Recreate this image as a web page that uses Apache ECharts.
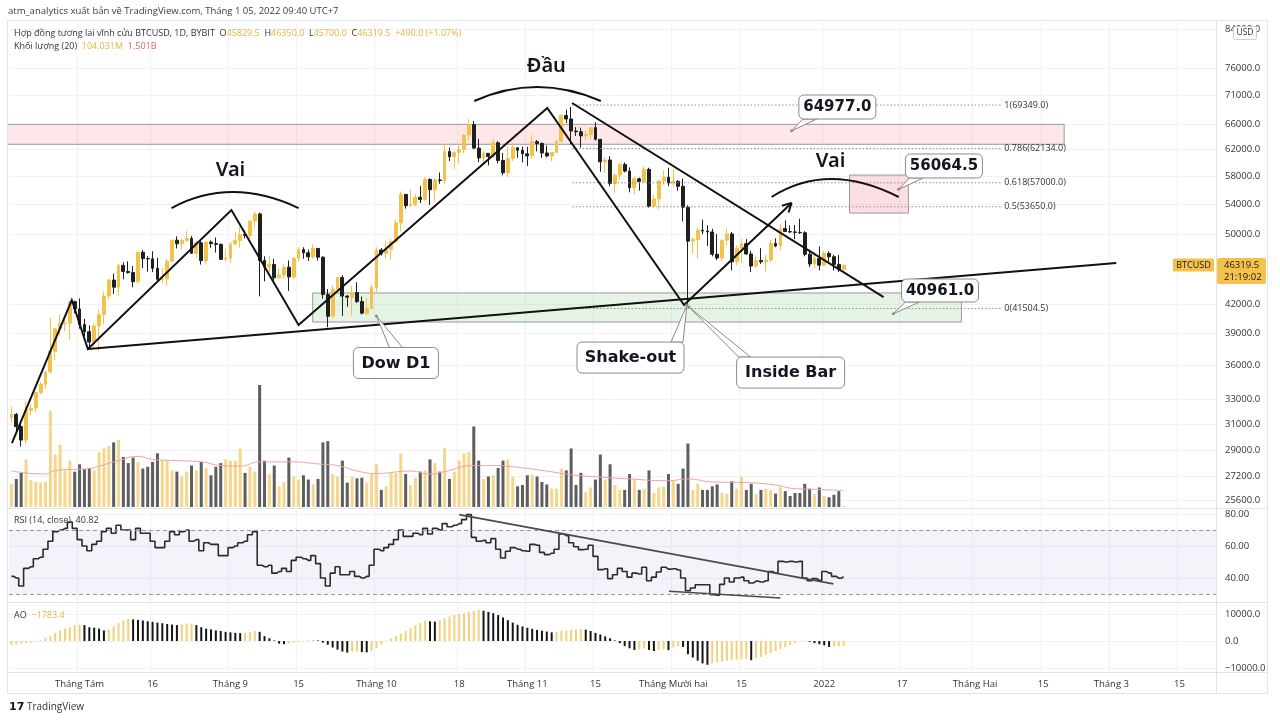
<!DOCTYPE html>
<html>
<head>
<meta charset="utf-8">
<script src="https://cdn.jsdelivr.net/npm/echarts@6/dist/echarts.min.js"></script>
<style>
html, body { margin: 0; background: #fff; }
#main { width: 1280px; height: 722px; }
</style>
</head>
<body>
<div id="main"></div>
<script>
// BTCUSD 1D (BYBIT) 18/07/2021 - 05/01/2022, doc tu anh
// [open, high, low, close]
const ohlc = [
  [31530,32420,31120,31780],[31780,31900,30400,30820],[30820,31050,29300,29790],[29790,32850,29500,32110],
  [32110,32580,31720,32290],[32290,33630,31950,33580],[33580,34490,33410,34290],[34290,35400,33880,35380],
  [35380,40550,35240,37270],[37270,39520,36420,39450],[39450,40900,38780,39990],[39990,40640,39220,40010],
  [40010,42300,38350,42220],[42220,42350,41000,41460],
  // thang 8
  [41460,42580,39450,39860],[39860,40440,38700,39150],[39150,39780,37520,38150],[38150,39950,37650,39720],
  [39720,41400,37300,40870],[40870,43350,39870,42840],[42840,44750,42440,44600],[44600,45330,43060,43810],
  [43810,46460,42810,46280],[46280,46650,44700,45580],[45580,46750,45330,45450],[45450,46200,43800,44410],
  [44410,47900,44230,47830],[47830,48120,45980,47080],[47080,47400,45550,47050],[47050,47950,45500,45940],
  [45940,47180,44420,44690],[44690,46000,44230,44730],[44730,47030,43960,46760],[46760,49350,46650,49320],
  [49320,49800,48300,48870],[48870,49500,48120,49290],[49290,50500,49050,49530],[49530,49850,47650,47710],
  [47710,49250,47150,48990],[48990,49350,46380,46850],[46850,49150,46400,49080],[49080,49300,48380,48900],
  [48900,49650,47800,48800],[48800,48900,46900,46990],[46990,48250,46750,47150],
  // thang 9
  [47150,49100,46550,48850],[48850,50350,48650,49280],[49280,51050,48380,50030],[50030,50550,49550,49920],
  [49920,51900,49500,51760],[51760,52950,50950,52690],[52690,52900,42800,46860],[46860,47350,44450,46080],
  [46080,47400,45520,46390],[46390,47050,44200,44850],[44850,45950,44750,45160],[45160,46450,44750,46060],
  [46060,46850,43400,44960],[44960,47250,44680,47110],[47110,48450,46750,48150],[48150,48450,47050,47770],
  [47770,48150,46800,47290],[47290,48800,47050,48310],[48310,48350,46850,47250],[47250,47350,42550,43010],
  [43010,43600,39600,40710],[40710,44000,40600,43570],[43570,44950,43100,44890],[44890,45150,40750,42830],
  [42830,42950,41700,42720],[42720,43950,40800,43210],[43210,44350,42100,42240],[42240,42800,40900,41030],
  [41030,42600,40800,41520],[41520,44100,41400,43790],
  // thang 10
  [43790,48450,43300,48120],[48120,48350,47450,47710],[47710,49250,47100,48200],[48200,49500,46950,49110],
  [49110,51900,49050,51510],[51510,55750,50400,55360],[55360,55400,53400,53800],[53800,56100,53650,53930],
  [53930,55450,53700,54960],[54960,56550,54150,54660],[54660,57850,54450,57470],[57470,57650,53900,56000],
  [56000,57650,54300,57400],[57400,58500,56850,57320],[57320,62900,56900,61670],[61670,62300,60200,60880],
  [60880,61650,58950,61530],[61530,62650,59850,62000],[62000,64450,61400,64280],[64280,66950,63500,66000],
  [66000,66600,62050,62210],[62210,63700,60050,60690],[60690,61750,59700,61390],[61390,61450,59550,60890],
  [60890,63700,60700,63050],[63050,63300,59850,60300],[60300,61450,58100,58460],[58460,62450,57850,60600],
  [60600,62950,60200,62250],[62250,62350,60700,61860],[61860,62450,60000,61320],
  // thang 11
  [61320,62400,59450,61000],[61000,64300,60700,63230],[63230,63500,61700,62950],[62950,63100,60700,61450],
  [61450,62600,60750,61000],[61000,61600,60150,61530],[61530,63300,61400,63300],[63300,67800,63100,67560],
  [67560,68550,66300,66950],[66950,69000,62800,64950],[64950,65600,64150,64830],[64830,65500,62300,64150],
  [64150,65000,63400,64400],[64400,65550,63600,65500],[65500,66400,63400,63600],[63600,63600,58600,60100],
  [60100,60800,58400,60370],[60370,60950,56500,56900],[56900,58400,55600,58100],[58100,59900,57450,59700],
  [59700,60000,58500,58700],[58700,59250,55650,56300],[56300,57850,55350,57570],[57570,57750,55900,57170],
  [57170,59400,57000,58960],[58960,59200,53550,53730],[53730,55300,53650,54720],[54720,57400,53350,57270],
  [57270,58850,56700,57800],[57800,59200,56500,56960],
  // thang 12
  [56960,59050,56450,57200],[57200,57400,55850,56500],[56500,57600,51700,53600],[53600,53850,42000,49200],
  [49200,49700,47700,49400],[49400,50900,47100,50580],[50580,51950,50050,50470],[50470,51200,48600,50350],
  [50350,50750,47350,47600],[47600,50100,46900,47150],[47150,49450,46800,49300],[49300,50800,48700,50100],
  [50100,50350,45700,46700],[46700,48700,46300,48340],[48340,49500,46600,48880],[48880,49450,47550,47630],
  [47630,48000,45500,46200],[46200,47350,45950,46850],[46850,48350,46450,46700],[46700,47550,45550,46900],
  [46900,49350,46650,48900],[48900,49550,48450,48600],[48600,51350,48100,50800],[50800,51850,50450,50400],
  [50400,51200,50200,50350],[50350,51250,49450,50300],[50300,52050,50100,50250],[50250,50450,47350,47600],
  [47600,48150,46100,46450],[46450,47900,46000,47100],[47100,48550,45700,46300],
  // thang 1
  [46300,47950,46200,47700],[47700,47950,46700,47300],[47300,47550,45700,46400],[46400,47500,45500,45830],
  [45829.5,46350,45700,46319.5]
];

// khoi luong (ty USD)
const volume = [
  1.9, 2.3, 2.8, 3.9, 2.2, 2.05, 2.0, 2.05, 7.9, 4.3,
  5.1, 3.0, 3.8, 2.9, 3.5, 3.1, 3.2, 3.0, 4.5, 4.8,
  5.0, 5.3, 5.5, 4.1, 3.6, 4.05, 3.7, 3.15, 3.3, 3.7,
  4.4, 3.8, 3.8, 3.0, 2.9, 2.5, 2.9, 3.4, 3.0, 3.7,
  3.2, 2.6, 3.3, 3.6, 3.9, 3.8, 3.8, 4.8, 2.8, 3.3,
  2.9, 10.0, 3.8, 2.7, 3.4, 1.7, 2.05, 4.05, 2.5, 2.25,
  2.6, 2.25, 1.85, 2.3, 5.3, 5.4, 2.7, 2.5, 3.8, 2.0,
  2.5, 2.35, 2.4, 2.0, 2.7, 3.5, 1.4, 1.7, 2.8, 2.8,
  4.4, 2.7, 1.8, 2.4, 2.9, 3.0, 3.9, 3.6, 2.9, 4.85,
  2.3, 2.9, 3.8, 4.4, 4.5, 6.6, 3.8, 2.3, 2.5, 2.6,
  3.2, 3.8, 3.9, 2.5, 1.7, 1.8, 2.6, 2.65, 2.5, 2.05,
  1.85, 1.5, 1.5, 3.15, 3.0, 4.8, 1.8, 2.8, 1.2, 1.6,
  2.25, 4.3, 2.25, 3.5, 1.8, 1.4, 1.4, 2.7, 2.2, 1.4,
  1.5, 3.0, 1.15, 1.6, 1.65, 2.7, 2.2, 1.9, 3.15, 5.2,
  1.4, 1.9, 1.4, 1.4, 1.7, 1.85, 1.15, 1.1, 2.1, 1.5,
  2.5, 1.4, 1.9, 1.05, 1.4, 1.5, 1.4, 1.1, 1.65, 1.3,
  0.9, 1.15, 1.15, 1.9, 1.5, 1.05, 1.6, 0.9, 0.8, 1.0,
  1.3, 0.1
];

// duong MA(20) cua khoi luong, cac diem doc duoc [chi so ngay, gia tri]
const volumeMa = [
  [0, 2.95], [7, 2.7], [9, 3.0], [16, 3.15], [18, 3.35], [22, 3.8], [26, 4.15], [29, 3.9],
  [34, 3.8], [39, 3.7], [43, 3.4], [47, 3.35], [51, 3.7], [57, 3.7], [64, 3.5], [67, 3.4],
  [71, 2.95], [75, 2.75], [82, 2.95], [86, 2.7], [89, 2.9], [95, 3.4], [99, 3.4], [103, 3.3],
  [109, 3.0], [115, 2.65], [121, 2.45], [127, 2.3], [135, 2.15], [139, 2.3], [144, 2.05],
  [151, 2.0], [157, 1.8], [161, 1.5], [165, 1.45], [171, 1.35]
];

const rsi = [
  41, 40, 35, 46, 47, 52, 53, 58, 63, 69,
  70, 71, 75, 71, 64, 60, 57, 61, 63, 69,
  71, 68, 73, 70, 70, 64, 71, 68, 68, 63,
  59, 59, 63, 69, 67, 69, 70, 63, 64, 57,
  62, 61, 61, 54, 54, 59, 60, 62, 63, 67,
  69, 48, 47, 48, 43, 44, 46, 44, 51, 53,
  52, 51, 54, 49, 40, 35, 43, 47, 42, 42,
  44, 41, 40, 41, 48, 58, 57, 59, 61, 64,
  70, 66, 66, 68, 67, 71, 67.5, 71, 70, 74,
  72, 73, 74, 76.5, 79.6, 65.4, 63, 63.5, 62, 64.6,
  58, 52.5, 56.7, 59, 58, 57, 56.7, 61, 60.5, 56,
  54.6, 55.5, 58, 67.5, 66.5, 62, 59.5, 57.7, 58, 60.5,
  53.5, 45.2, 45.8, 39.6, 42, 46, 44, 40.5, 43, 42.5,
  46.7, 38.3, 40.5, 43.7, 46.7, 45.5, 45.8, 45, 40, 32,
  33.7, 35.8, 35.8, 35.8, 29.6, 29.2, 36, 40, 37.5, 40,
  40.5, 38.3, 36.9, 38, 37.5, 38.3, 44, 43, 50.4, 50,
  50.4, 50, 50.4, 40, 38.3, 39.6, 38.5, 44, 43, 41,
  39.8, 40.82
];

const ao = [
  -1400, -1200, -1000, -800, -500, -200, 300, 1200, 1800, 3000,
  3900, 4600, 5100, 5900, 6100, 5900, 5100, 4900, 4600, 3900,
  4300, 5500, 6700, 7600, 8200, 8000, 7800, 7600, 7300, 7100,
  6800, 6600, 6300, 6100, 5900, 6100, 6400, 6500, 5900, 5100,
  4600, 4300, 3900, 3700, 3400, 3200, 3000, 2900, 3000, 3300,
  3700, 3400, 1800, 1000, 200, -1000, -1200, -900, -600, -300,
  100, 300, 400, 200, -600, -1400, -2400, -3200, -3900, -4300,
  -4000, -3800, -4100, -4200, -3600, -2600, -1200, 200, 1000, 1800,
  2700, 3700, 4900, 5900, 6700, 7500, 7300, 7200, 7800, 8500,
  9100, 9600, 10000, 10400, 10800, 11200, 11500, 11200, 10800, 10300,
  9600, 8700, 7700, 6800, 6000, 5400, 4900, 4500, 4100, 3800,
  3500, 3200, 3400, 3700, 3900, 4100, 4300, 4500, 4200, 3700,
  3000, 2400, 1700, 1000, 200, -800, -1900, -2700, -3300, -3000,
  -2800, -3300, -3700, -3300, -3000, -3400, -2400, -1900, -2200, -4900,
  -6100, -7300, -8300, -8800, -8300, -7900, -7600, -7300, -7100, -7000,
  -6800, -6700, -7100, -6300, -5900, -5100, -4400, -3700, -2900, -2200,
  -1500, -700, -200, 200, -300, -800, -1200, -1600, -2200, -2000,
  -1900, -1783.4
];

const priceTicks = [25600, 27200, 29000, 31000, 33000, 36000, 39000, 42000, 50000, 54000, 58000, 62000, 66000, 71000, 76000, 84000];
const rsiTicks = [40, 60, 80];
const aoTicks = [-10000, 0, 10000];
const xTicks = [
  ['2021-08-01', 'Tháng Tám'], ['2021-08-16', '16'], ['2021-09-01', 'Tháng 9'], ['2021-09-15', '15'],
  ['2021-10-01', 'Tháng 10'], ['2021-10-18', '18'], ['2021-11-01', 'Tháng 11'], ['2021-11-15', '15'],
  ['2021-12-01', 'Tháng Mười hai'], ['2021-12-15', '15'], ['2022-01-01', '2022'], ['2022-01-17', '17'],
  ['2022-02-01', 'Tháng Hai'], ['2022-02-15', '15'], ['2022-03-01', 'Tháng 3'], ['2022-03-15', '15']
];

// ve tay tren bieu do: [chi so ngay, gia]
const zigzag = [[0.1, 29570], [12.4, 42410], [15.7, 37480], [45.2, 53210], [59.0, 39820], [110.1, 68830], [138.2, 41880], [160.3, 54160]];
const neckline = [[15.7, 37480], [227.0, 46550]];
const headTrend = [[115.2, 69700], [179.2, 42730]];
const arcs = [
  [[32.9, 53480], [45.5, 55680], [59.0, 53480]],
  [[95.1, 70050], [108.0, 72570], [121.1, 70050]],
  [[156.2, 54990], [168.5, 57540], [182.3, 54990]]
];
const patternLabels = [['Vai', 45.0, 58860], ['Đầu', 109.9, 76520], ['Vai', 168.3, 60210]];
const zones = [
  [[-0.9, 66050], [216.3, 62810]],
  [[61.9, 43170], [195.2, 40120]],
  [[172.2, 58120], [184.3, 52810]]
];
const fibLevels = [[1, 69349.0], [0.786, 62134.0], [0.618, 57000.0], [0.5, 53650.0], [0, 41504.5]];
const fibSpan = [115.2, 203.6];
const callouts = [
  ['64977.0', [160.3, 64977], [169.7, 69000]],
  ['56064.5', [182.3, 56064.5], [191.6, 59470]],
  ['40961.0', [181.2, 40961], [190.8, 43440]],
  ['Dow D1', [75.0, 40730], [79.0, 36180]],
  ['Shake-out', [138.8, 41880], [127.2, 36680]],
  ['Inside Bar', [139.2, 41670], [160.1, 35320]]
];
const rsiTrend = [
  [[92.0, 79.6], [168.9, 36.3]],
  [[135.1, 31.7], [158.0, 27.5]]
];

// ngay tren truc
const dates = [];
const d0 = Date.UTC(2021, 6, 18);
for (let i = 0; i < 248; i++) {
  dates.push(new Date(d0 + i * 86400000).toISOString().slice(0, 10));
}
const tickMap = Object.fromEntries(xTicks);

const UP = '#f4c14a', DOWN = '#1f1f1f';
const FONT = '"Open Sans", "Noto Sans", sans-serif';

const chart = echarts.init(document.getElementById('main'));

const grids = [
  { left: 9, right: 64, top: 22, height: 486 },
  { left: 9, right: 64, top: 385, height: 122 },
  { left: 9, right: 64, top: 510, height: 91 },
  { left: 9, right: 64, top: 603, height: 69 }
];

const xAxes = grids.map((g, i) => ({
  type: 'category',
  gridIndex: i,
  data: dates,
  boundaryGap: true,
  axisLine: { show: false },
  axisTick: { show: false },
  axisLabel: {
    show: i === 3,
    interval: (idx, val) => tickMap[val] !== undefined,
    formatter: v => tickMap[v] || '',
    color: '#333',
    fontSize: 9.5,
    fontFamily: FONT,
    margin: 7
  },
  splitLine: {
    show: i !== 1,
    interval: (idx, val) => tickMap[val] !== undefined,
    lineStyle: { color: '#f1f2f5', width: 1 }
  }
}));

const axisLabelBase = { color: '#333', fontSize: 9.5, fontFamily: FONT, margin: 9 };

const option = {
  animation: false,
  backgroundColor: '#fff',
  grid: grids,
  xAxis: xAxes,
  yAxis: [
    {
      type: 'log', logBase: 10, gridIndex: 0, position: 'right',
      min: 25100, max: 85500,
      axisLine: { show: false },
      axisTick: { show: false, customValues: priceTicks },
      axisLabel: Object.assign({ customValues: priceTicks, formatter: v => Number(v).toFixed(1) }, axisLabelBase),
      splitLine: { show: true, lineStyle: { color: '#f1f2f5' } }
    },
    {
      type: 'value', gridIndex: 1, min: 0, max: 10, show: false
    },
    {
      type: 'value', gridIndex: 2, position: 'right', min: 25.6, max: 82.5,
      axisLine: { show: false },
      axisTick: { show: false, customValues: rsiTicks },
      axisLabel: Object.assign({ customValues: rsiTicks, formatter: v => Number(v).toFixed(2) }, axisLabelBase),
      splitLine: { show: true, lineStyle: { color: '#f1f2f5' } }
    },
    {
      type: 'value', gridIndex: 3, position: 'right', min: -11481, max: 14074,
      axisLine: { show: false },
      axisTick: { show: false, customValues: aoTicks },
      axisLabel: Object.assign({
        customValues: aoTicks,
        formatter: v => (v < 0 ? '\u2212' + Math.abs(v).toFixed(1) : Number(v).toFixed(1))
      }, axisLabelBase),
      splitLine: { show: true, lineStyle: { color: '#f1f2f5' } }
    }
  ],
  series: [
    {
      name: 'Khối lượng',
      type: 'bar',
      xAxisIndex: 1, yAxisIndex: 1,
      barWidth: '62%',
      data: volume.map((v, i) => ({
        value: v,
        itemStyle: { color: ohlc[i][3] >= ohlc[i][0] ? '#f6d68a' : '#5e5e5e' }
      }))
    },
    {
      name: 'MA khối lượng',
      type: 'line',
      xAxisIndex: 1, yAxisIndex: 1,
      data: volumeMa,
      smooth: true,
      showSymbol: false,
      lineStyle: { color: '#eea3a3', width: 1 }
    },
    {
      name: 'BTCUSD',
      type: 'candlestick',
      xAxisIndex: 0, yAxisIndex: 0,
      barWidth: '68%',
      data: ohlc.map(r => [r[0], r[3], r[2], r[1]]),
      itemStyle: { color: UP, color0: DOWN, borderColor: UP, borderColor0: DOWN, borderWidth: 1 }
    },
    {
      name: 'RSI',
      type: 'line',
      xAxisIndex: 2, yAxisIndex: 2,
      data: rsi,
      step: 'middle',
      showSymbol: false,
      lineStyle: { color: '#2b2b2b', width: 1.6 },
      markArea: {
        silent: true,
        itemStyle: { color: 'rgba(126,87,194,0.08)' },
        data: [[{ yAxis: 30 }, { yAxis: 70 }]]
      },
      markLine: {
        silent: true,
        symbol: 'none',
        label: { show: false },
        lineStyle: { color: '#9598a1', type: [4, 3], width: 1 },
        data: [{ yAxis: 70 }, { yAxis: 30 }]
      }
    },
    {
      name: 'AO',
      type: 'bar',
      xAxisIndex: 3, yAxisIndex: 3,
      barWidth: 2,
      data: ao.map((v, i) => ({
        value: v,
        itemStyle: { color: i === 0 || v >= ao[i - 1] ? '#f2d17c' : '#151515' }
      }))
    }
  ]
};

chart.setOption(option);

// cac hinh ve them theo toa do du lieu
const x0 = chart.convertToPixel({ gridIndex: 0 }, [0, 50000])[0];
const bw = chart.convertToPixel({ gridIndex: 0 }, [1, 50000])[0] - x0;
const P = (c, p) => [x0 + c * bw, chart.convertToPixel({ gridIndex: 0 }, [0, p])[1]];
const R = (c, v) => [x0 + c * bw, chart.convertToPixel({ gridIndex: 2 }, [0, v])[1]];

const g = [];
const frame = '#e0e3eb';

// khung
g.push({ type: 'rect', z: 50, silent: true, shape: { x: 7.5, y: 20.5, width: 1260, height: 673 }, style: { fill: null, stroke: frame, lineWidth: 1 } });
[508.5, 602.5, 672.5].forEach(y => {
  g.push({ type: 'line', z: 50, silent: true, shape: { x1: 7.5, y1: y, x2: 1267.5, y2: y }, style: { stroke: frame, lineWidth: 1 } });
});
g.push({ type: 'line', z: 50, silent: true, shape: { x1: 1216.5, y1: 20.5, x2: 1216.5, y2: 693.5 }, style: { stroke: frame, lineWidth: 1 } });

// vung
const zoneFill = ['rgba(242,54,69,0.12)', 'rgba(76,175,80,0.14)', 'rgba(242,54,69,0.16)'];
zones.forEach((z, i) => {
  const a = P(z[0][0], z[0][1]), b = P(z[1][0], z[1][1]);
  g.push({
    type: 'rect', z: 1, silent: true,
    shape: { x: Math.max(a[0], 7.5), y: a[1], width: b[0] - Math.max(a[0], 7.5), height: b[1] - a[1] },
    style: { fill: zoneFill[i], stroke: '#9a9a9a', lineWidth: 1 }
  });
});

// fibonacci
fibLevels.forEach(([lvl, price]) => {
  const a = P(fibSpan[0], price), b = P(fibSpan[1], price);
  g.push({ type: 'line', z: 3, silent: true, shape: { x1: a[0], y1: a[1], x2: b[0], y2: b[1] }, style: { stroke: '#8d8d8d', lineWidth: 1, lineDash: [1.5, 2] } });
  g.push({
    type: 'text', z: 3, silent: true,
    style: { text: lvl + '(' + price.toFixed(1) + ')', x: b[0] + 2, y: b[1], verticalAlign: 'middle', font: '9px ' + FONT, fill: '#333' }
  });
});

// duong zigzag + mui ten
const zz = zigzag.map(p => P(p[0], p[1]));
g.push({ type: 'polyline', z: 30, silent: true, shape: { points: zz }, style: { stroke: '#111', lineWidth: 2, fill: null } });
{
  const a = zz[zz.length - 2], b = zz[zz.length - 1];
  const ang = Math.atan2(b[1] - a[1], b[0] - a[0]);
  [-0.5, 0.5].forEach(s => {
    const t = ang + Math.PI + s;
    g.push({ type: 'line', z: 30, silent: true, shape: { x1: b[0], y1: b[1], x2: b[0] + 10 * Math.cos(t), y2: b[1] + 10 * Math.sin(t) }, style: { stroke: '#111', lineWidth: 2 } });
  });
}
[neckline, headTrend].forEach(l => {
  const a = P(l[0][0], l[0][1]), b = P(l[1][0], l[1][1]);
  g.push({ type: 'line', z: 30, silent: true, shape: { x1: a[0], y1: a[1], x2: b[0], y2: b[1] }, style: { stroke: '#111', lineWidth: 2 } });
});

// vong cung
arcs.forEach(arc => {
  const s = P(arc[0][0], arc[0][1]), m = P(arc[1][0], arc[1][1]), e = P(arc[2][0], arc[2][1]);
  const cx = 2 * m[0] - (s[0] + e[0]) / 2, cy = 2 * m[1] - (s[1] + e[1]) / 2;
  g.push({ type: 'bezierCurve', z: 30, silent: true, shape: { x1: s[0], y1: s[1], x2: e[0], y2: e[1], cpx1: cx, cpy1: cy }, style: { stroke: '#111', lineWidth: 2, fill: null } });
});

patternLabels.forEach(([t, c, p]) => {
  const q = P(c, p);
  g.push({ type: 'text', z: 30, silent: true, style: { text: t, x: q[0], y: q[1], align: 'center', verticalAlign: 'middle', font: '600 20px "Noto Sans", sans-serif', fill: '#131722' } });
});

// chu thich
const calloutSize = [[77, 24], [77, 24], [77, 23], [85, 31], [107, 31], [108, 31]];
const calloutBase = [
  [[4, 1], [18, 1]], [[4, 1], [18, 1]], [[4, 1], [18, 1]],
  [[36, 0], [49, 0]], [[94, 0], [106, 0]], [[2, 0], [14, 0]]
];
callouts.forEach(([t, anc, box], i) => {
  const a = P(anc[0], anc[1]), c = P(box[0], box[1]);
  const [w, h] = calloutSize[i];
  const bx = c[0] - w / 2, by = c[1] - h / 2;
  const base = calloutBase[i].map(([dx, fy]) => [bx + dx, by + fy * h]);
  g.push({ type: 'polygon', z: 40, silent: true, shape: { points: [a, base[0], base[1]] }, style: { fill: '#fff', stroke: '#8a8a8a', lineWidth: 1 } });
  g.push({ type: 'circle', z: 40, silent: true, shape: { cx: a[0], cy: a[1], r: 1.5 }, style: { fill: '#8a8a8a' } });
  g.push({ type: 'rect', z: 41, silent: true, shape: { x: bx, y: by, width: w, height: h, r: 5 }, style: { fill: '#fff', stroke: '#8a8a8a', lineWidth: 1 } });
  g.push({
    type: 'text', z: 42, silent: true,
    style: { text: t, x: c[0], y: c[1] + 0.5, align: 'center', verticalAlign: 'middle', font: 'bold ' + (i < 3 ? 15 : 16) + 'px "DejaVu Sans", sans-serif', fill: '#131722' }
  });
});

// duong xu huong RSI
rsiTrend.forEach(l => {
  const a = R(l[0][0], l[0][1]), b = R(l[1][0], l[1][1]);
  g.push({ type: 'line', z: 30, silent: true, shape: { x1: a[0], y1: a[1], x2: b[0], y2: b[1] }, style: { stroke: '#4a4a4a', lineWidth: 1.6 } });
});

// nhan gia cuoi
const lastY = P(0, 46319.5)[1];
g.push({ type: 'rect', z: 60, silent: true, shape: { x: 1173, y: lastY - 6.5, width: 41, height: 13, r: 1 }, style: { fill: UP } });
g.push({ type: 'text', z: 61, silent: true, style: { text: 'BTCUSD', x: 1193.5, y: lastY, align: 'center', verticalAlign: 'middle', font: '9px ' + FONT, fill: '#131722' } });
g.push({ type: 'rect', z: 60, silent: true, shape: { x: 1217, y: lastY - 7, width: 49, height: 26, r: 2 }, style: { fill: UP } });
g.push({ type: 'text', z: 61, silent: true, style: { text: '46319.5\n21:19:02', x: 1224, y: lastY - 5.5, verticalAlign: 'top', lineHeight: 11.5, font: '9.5px ' + FONT, fill: '#131722' } });
g.push({ type: 'rect', z: 60, silent: true, shape: { x: 1233.5, y: 26.5, width: 23, height: 13, r: 2 }, style: { fill: '#fff', stroke: '#c9ccd3', lineWidth: 1 } });
g.push({ type: 'text', z: 61, silent: true, style: { text: 'USD', x: 1245, y: 33, align: 'center', verticalAlign: 'middle', font: '8.5px ' + FONT, fill: '#333' } });

// tieu de
g.push({ type: 'text', z: 60, silent: true, style: { text: 'atm_analytics xuất bản về TradingView.com, Tháng 1 05, 2022 09:40 UTC+7', x: 8, y: 11, verticalAlign: 'middle', font: '9.5px ' + FONT, fill: '#3b3b3b' } });
g.push({
  type: 'text', z: 60, silent: true,
  style: {
    text: '{n|Hợp đồng tương lai vĩnh cửu BTCUSD, 1D, BYBIT  O}{v|45829.5}{n|  H}{v|46350.0}{n|  L}{v|45700.0}{n|  C}{v|46319.5}{v|  +490.0 (+1.07%)}',
    x: 14, y: 33, verticalAlign: 'middle',
    rich: {
      n: { fontSize: 9, fontFamily: FONT, fill: '#333' },
      v: { fontSize: 9, fontFamily: FONT, fill: '#e8b43c' }
    }
  }
});
g.push({
  type: 'text', z: 60, silent: true,
  style: {
    text: '{n|Khối lượng (20)  }{v|104.031M}{r|  1.501B}',
    x: 14, y: 46, verticalAlign: 'middle',
    rich: {
      n: { fontSize: 9, fontFamily: FONT, fill: '#333' },
      v: { fontSize: 9, fontFamily: FONT, fill: '#e8b43c' },
      r: { fontSize: 9, fontFamily: FONT, fill: '#e06666' }
    }
  }
});
g.push({ type: 'text', z: 60, silent: true, style: { text: '{n|RSI (14, close)  }{n|40.82}', x: 14, y: 520, verticalAlign: 'middle', rich: { n: { fontSize: 9, fontFamily: FONT, fill: '#333' } } } });
g.push({ type: 'text', z: 60, silent: true, style: { text: '{n|AO  }{v|\u22121783.4}', x: 14, y: 615, verticalAlign: 'middle', rich: { n: { fontSize: 9, fontFamily: FONT, fill: '#333' }, v: { fontSize: 9, fontFamily: FONT, fill: '#e8b43c' } } } });

// logo
g.push({ type: 'text', z: 60, silent: true, style: { text: '{l|17}{n| TradingView}', x: 9, y: 707, verticalAlign: 'middle', rich: { l: { fontSize: 11, fontWeight: 'bold', fontFamily: '"DejaVu Sans", sans-serif', fill: '#131722' }, n: { fontSize: 10, fontFamily: FONT, fill: '#333' } } } });

chart.setOption({ graphic: g });
</script>
</body>
</html>
